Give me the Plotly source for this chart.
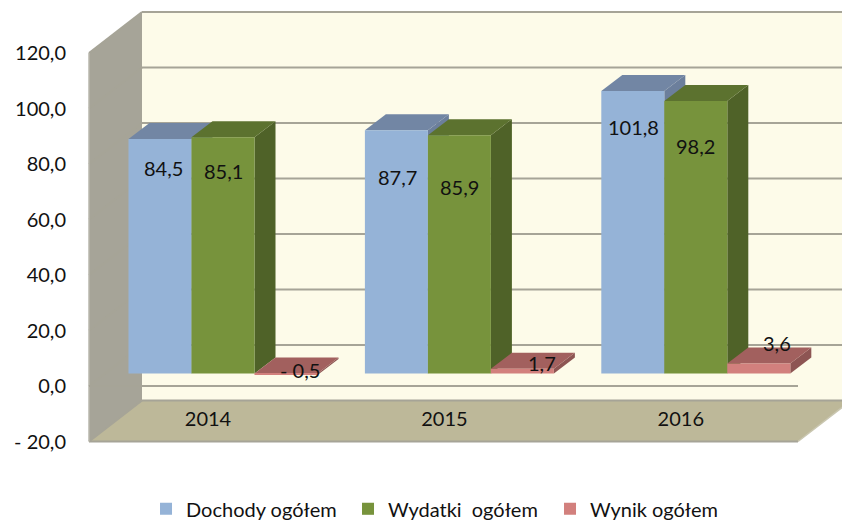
import plotly.graph_objects as go

categories = ["2014", "2015", "2016"]
series_names = ["Dochody ogółem", "Wydatki\u00a0 ogółem", "Wynik ogółem"]
dochody = [84.5, 87.7, 101.8]
wydatki = [85.1, 85.9, 98.2]
wynik = [-0.5, 1.7, 3.6]
value_ticks = [-20, 0, 20, 40, 60, 80, 100, 120]

FONT = "Lato"
TEXT = "#111111"
front = ["#95B3D7", "#77933C", "#D2807D"]
top_c = ["#7286A4", "#5C722F", "#A2605E"]
side_c = ["#6C7F9C", "#4F6228", "#8D5553"]
GRID = "#A6A497"

# scale of the drawing (px per unit), used to express depth in axis units
PX_X, PX_Y = 236.4, 2.775
def dx(p): return p / PX_X
def dv(p): return p / PX_Y

W, H = 842, 520
L, R, T, B = 85, 842, 8, 445
X0 = 223
Y0 = 386
xrange_ = [(L - X0) / PX_X, (R - X0) / PX_X]
yrange_ = [(Y0 - B) / PX_Y, (Y0 - T) / PX_Y]

wall_dx, wall_dv = dx(53), dv(41)
bar_dx, bar_dv = dx(21), dv(16)
base = dv(12.5)
plane_l, plane_r = dx(89 - X0), dx(798 - X0)
bargap = 1 - 189 / PX_X
bar_w = (1 - bargap) / 3
vmin, vmax = value_ticks[0], value_ticks[-1]

def poly(points, fill):
    d = "M" + " L".join(f"{x},{y}" for x, y in points) + " Z"
    return dict(type="path", path=d, xref="x", yref="y", layer="below",
                fillcolor=fill, line=dict(width=0))

def seg(x0, y0, x1, y1, width=2, color=GRID):
    return dict(type="line", xref="x", yref="y", layer="below", x0=x0, y0=y0, x1=x1, y1=y1,
                line=dict(color=color, width=width))

shapes = [
    poly([(plane_l + wall_dx, vmin + wall_dv), (plane_r + wall_dx, vmin + wall_dv),
          (plane_r + wall_dx, vmax + wall_dv), (plane_l + wall_dx, vmax + wall_dv)], "#FDFBE9"),
    poly([(plane_l, vmin), (plane_l + wall_dx, vmin + wall_dv),
          (plane_l + wall_dx, vmax + wall_dv), (plane_l, vmax)], "#A6A498"),
    poly([(plane_l, vmin), (plane_r, vmin), (plane_r + wall_dx, vmin + wall_dv),
          (plane_l + wall_dx, vmin + wall_dv)], "#BDB899"),
]
for v in value_ticks:
    shapes.append(seg(plane_l + wall_dx, v + wall_dv, plane_r + wall_dx, v + wall_dv))
    shapes.append(seg(plane_l, v, plane_l + wall_dx, v + wall_dv))
shapes.append(seg(plane_l, vmin, plane_r, vmin))
shapes.append(seg(plane_r, vmin, plane_r + wall_dx, vmin + wall_dv, 1.5, "#C9C6B0"))
shapes.append(seg(plane_l, vmin, plane_l, vmax, 1.5, "#B9B7AC"))
shapes.append(seg(plane_l, 0, plane_r, 0))

all_series = [dochody, wydatki, wynik]
for s, vals in enumerate(all_series):
    for i, v in enumerate(vals):
        left = i + (s - 1.5) * bar_w
        right = left + bar_w
        hi = base + max(v, 0)
        lo = base + min(v, 0)
        shapes.append(poly([(right, lo), (right + bar_dx, lo + bar_dv),
                            (right + bar_dx, hi + bar_dv), (right, hi)], side_c[s]))
        shapes.append(poly([(left, hi), (right, hi), (right + bar_dx, hi + bar_dv),
                            (left + bar_dx, hi + bar_dv)], top_c[s]))

fig = go.Figure()
idx = list(range(len(categories)))
for s, vals in enumerate(all_series):
    fig.add_trace(go.Bar(x=idx, y=vals, base=base, name=series_names[s],
                         marker=dict(color=front[s], line=dict(width=0)),
                         hoverinfo="skip"))

def fmt(v):
    t = f"{abs(v):.1f}".replace(".", ",")
    return ("- " + t) if v < 0 else t

label_shift = [  # px right, px below bar top
    [(3, 29), (0, 34), (14, -5)],
    [(1, 47), (0, 52), (20, -6)],
    [(1, 36), (0, 45), (18, -21)],
]
annotations = []
for s, vals in enumerate(all_series):
    for i, v in enumerate(vals):
        sx, sy = label_shift[i][s]
        annotations.append(dict(x=i + (s - 1) * bar_w, y=base + v, xref="x", yref="y",
                                text=fmt(v), showarrow=False, xshift=sx, yshift=-sy,
                                xanchor="center", yanchor="middle",
                                font=dict(family=FONT, size=20, color=TEXT)))

fig.update_layout(
    width=W, height=H, autosize=False,
    margin=dict(l=L, r=W - R, t=T, b=H - B, pad=0, autoexpand=False),
    paper_bgcolor="white", plot_bgcolor="rgba(0,0,0,0)",
    barmode="group", bargap=bargap, bargroupgap=0,
    shapes=shapes, annotations=annotations,
    font=dict(family=FONT, color=TEXT, size=20),
    legend=dict(orientation="h", x=0.0806, xanchor="left", y=-0.146, yanchor="middle",
                font=dict(family=FONT, size=20, color=TEXT),
                entrywidth=157, entrywidthmode="pixels",
                bgcolor="rgba(0,0,0,0)", borderwidth=0),
    xaxis=dict(range=xrange_, anchor="free", position=(B - 405) / (B - T),
               tickmode="array", tickvals=[i - dx(15) for i in idx], ticktext=categories,
               showgrid=False, zeroline=False, showline=False, ticks="",
               tickfont=dict(family=FONT, size=20, color=TEXT)),
    yaxis=dict(range=yrange_, tickmode="array", tickvals=value_ticks,
               ticktext=[fmt(float(v)) for v in value_ticks],
               showgrid=False, zeroline=False, showline=False, ticks="outside",
               ticklen=14, tickcolor="rgba(0,0,0,0)", tickwidth=1,
               tickfont=dict(family=FONT, size=20, color=TEXT)),
)
fig.write_html("out.html", config={"displayModeBar": False},
               post_script="document.body.style.margin='0';")
